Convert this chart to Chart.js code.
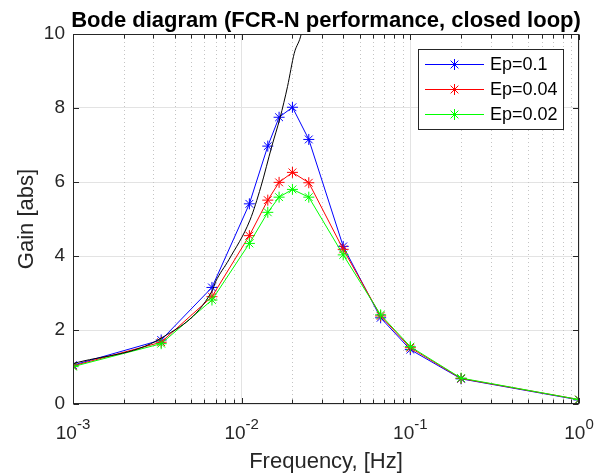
<!DOCTYPE html>
<html>
<head>
<meta charset="utf-8">
<script src="https://cdn.jsdelivr.net/npm/chart.js@4.4.1/dist/chart.umd.min.js"></script>
<style>
  html, body { margin: 0; padding: 0; background: #fff; }
  #wrap { width: 600px; height: 476px; }
</style>
</head>
<body>
<div id="wrap"><canvas id="bode"></canvas></div>
<script>
// frequencies [Hz] of the simulated points
let freq = [0.001, 1/300, 1/150, 1/90, 1/70, 1/60, 1/50, 1/40, 1/25, 1/15, 0.1, 0.2, 1];
let gainEp01  = [1.05, 1.73, 3.15, 5.41, 6.97, 7.75, 8.02, 7.15, 4.26, 2.33, 1.47, 0.68, 0.11];
let gainEp004 = [1.03, 1.67, 2.90, 4.55, 5.51, 5.99, 6.26, 5.98, 4.18, 2.38, 1.52, 0.69, 0.12];
let gainEp002 = [1.01, 1.63, 2.81, 4.34, 5.18, 5.59, 5.80, 5.59, 4.03, 2.41, 1.55, 0.70, 0.12];

// black reference curve (no markers, leaves the plot at the top)
let refFreq = [0.001, 1/300, 1/150, 0.0070, 0.0084, 0.0112, 0.0130, 0.0151, 0.0169, 0.0187, 0.0205, 0.0226, 0.025];
let refGain = [1.09, 1.78, 3.05, 3.30, 3.90, 4.97, 5.87, 6.97, 7.74, 8.58, 9.48, 10.02, 11.3];

let labels = ['Ep=0.1', 'Ep=0.04', 'Ep=0.02'];
let colors = ['#0000ff', '#ff0000', '#00ff00'];

// axis ticks
let decades = [0.001, 0.01, 0.1, 1];
let decadeExp = ['-3', '-2', '-1', '0'];

const FONT = '"Liberation Sans", Arial, sans-serif';
const AXIS = '#262626';

function pts(xs, ys) {
  return xs.map((x, i) => ({ x: x, y: ys[i] }));
}

function isDecade(v) {
  return decades.some(d => Math.abs(v - d) / d < 1e-6);
}

let xTickValues = [];
for (let i = 0; i < decades.length - 1; i++) {
  for (let k = 1; k < 10; k++) xTickValues.push(k * decades[i]);
}
xTickValues.push(decades[decades.length - 1]);

function star(ctx, x, y, r) {
  let d = r * Math.SQRT1_2;
  ctx.beginPath();
  ctx.moveTo(x - r, y); ctx.lineTo(x + r, y);
  ctx.moveTo(x, y - r); ctx.lineTo(x, y + r);
  ctx.moveTo(x - d, y - d); ctx.lineTo(x + d, y + d);
  ctx.moveTo(x - d, y + d); ctx.lineTo(x + d, y - d);
  ctx.stroke();
}

const matlabAxes = {
  id: 'matlabAxes',
  beforeDatasetsDraw(chart) {
    // dotted minor grid
    const ctx = chart.ctx;
    const a = chart.chartArea;
    const xs = chart.scales.x;
    ctx.save();
    ctx.strokeStyle = '#c4c4c4';
    ctx.lineWidth = 1;
    ctx.setLineDash([1, 3]);
    ctx.beginPath();
    xs.ticks.forEach(t => {
      if (isDecade(t.value)) return;
      let px = Math.round(xs.getPixelForValue(t.value)) + 0.5;
      ctx.moveTo(px, a.top);
      ctx.lineTo(px, a.bottom);
    });
    ctx.stroke();
    ctx.restore();
  },
  afterDraw(chart) {
    const ctx = chart.ctx;
    const a = chart.chartArea;
    const xs = chart.scales.x, ys = chart.scales.y;
    const L = Math.round(a.left) + 0.5, R = Math.round(a.right) - 0.5;
    const T = Math.round(a.top) + 0.5, B = Math.round(a.bottom) - 0.5;
    ctx.save();
    ctx.strokeStyle = AXIS;
    ctx.lineWidth = 1;

    // box
    ctx.strokeRect(L, T, R - L, B - T);

    // inward ticks
    ctx.beginPath();
    xs.ticks.forEach(t => {
      let px = Math.round(xs.getPixelForValue(t.value)) + 0.5;
      let len = isDecade(t.value) ? 5.5 : 4;
      ctx.moveTo(px, B); ctx.lineTo(px, B - len);
      ctx.moveTo(px, T); ctx.lineTo(px, T + len);
    });
    ys.ticks.forEach(t => {
      let py = Math.round(ys.getPixelForValue(t.value)) + 0.5;
      ctx.moveTo(L, py); ctx.lineTo(L + 5.5, py);
      ctx.moveTo(R, py); ctx.lineTo(R - 5.5, py);
    });
    ctx.stroke();

    // x tick labels 10^n
    ctx.fillStyle = AXIS;
    ctx.textBaseline = 'alphabetic';
    decades.forEach((d, i) => {
      let px = xs.getPixelForValue(d);
      ctx.font = '19px ' + FONT;
      let wBase = ctx.measureText('10').width;
      ctx.font = '15px ' + FONT;
      let wExp = ctx.measureText(decadeExp[i]).width;
      let x0 = px - (wBase + wExp) / 2;
      ctx.textAlign = 'left';
      ctx.font = '19px ' + FONT;
      ctx.fillText('10', x0, 438.5);
      ctx.font = '15px ' + FONT;
      ctx.fillText(decadeExp[i], x0 + wBase, 429);
    });

    // axis titles
    ctx.font = '22px ' + FONT;
    ctx.textAlign = 'center';
    ctx.fillText('Frequency, [Hz]', (a.left + a.right) / 2, 468);
    ctx.save();
    ctx.translate(33, (a.top + a.bottom) / 2);
    ctx.rotate(-Math.PI / 2);
    ctx.fillText('Gain [abs]', 0, 0);
    ctx.restore();

    // title
    ctx.fillStyle = '#000';
    ctx.font = 'bold 22px ' + FONT;
    ctx.fillText('Bode diagram (FCR-N performance, closed loop)', (a.left + a.right) / 2, 27);

    // legend
    const lx = 418.5, ly = 49.5, lw = 145, lh = 80;
    ctx.fillStyle = '#fff';
    ctx.fillRect(lx, ly, lw, lh);
    ctx.strokeStyle = AXIS;
    ctx.strokeRect(lx, ly, lw, lh);
    ctx.font = '18px ' + FONT;
    ctx.textAlign = 'left';
    ctx.textBaseline = 'middle';
    labels.forEach((lab, i) => {
      let y = 64.5 + i * 25;
      ctx.strokeStyle = colors[i];
      ctx.beginPath();
      ctx.moveTo(425, y);
      ctx.lineTo(484, y);
      ctx.stroke();
      star(ctx, 454.5, y, 5.5);
      ctx.fillStyle = '#000';
      ctx.fillText(lab, 490, y + 1);
    });
    ctx.restore();
  }
};

function series(i, data) {
  return {
    label: labels[i],
    data: pts(freq, data),
    borderColor: colors[i],
    backgroundColor: colors[i],
    borderWidth: 1,
    pointStyle: 'star',
    pointRadius: 5.5,
    pointBorderWidth: 1,
    pointHoverRadius: 5.5,
    order: 3 - i
  };
}

new Chart(document.getElementById('bode'), {
  type: 'line',
  data: {
    datasets: [
      series(0, gainEp01),
      series(1, gainEp004),
      series(2, gainEp002),
      {
        label: '',
        data: pts(refFreq, refGain),
        borderColor: '#000000',
        borderWidth: 1,
        pointRadius: 0,
        cubicInterpolationMode: 'monotone',
        order: 0
      }
    ]
  },
  options: {
    responsive: true,
    maintainAspectRatio: false,
    animation: false,
    events: [],
    layout: { padding: { top: 34, right: 21, left: 0, bottom: 0 } },
    plugins: {
      legend: { display: false },
      title: { display: false },
      tooltip: { enabled: false }
    },
    scales: {
      x: {
        type: 'logarithmic',
        min: 0.001,
        max: 1,
        afterBuildTicks(scale) {
          scale.ticks = xTickValues.map(v => ({ value: v, major: isDecade(v) }));
        },
        afterFit(scale) { scale.height = 72; },
        ticks: { display: false },
        grid: {
          drawTicks: false,
          color: c => (c.tick && isDecade(c.tick.value)) ? '#e3e3e3' : 'rgba(0,0,0,0)'
        },
        border: { display: false }
      },
      y: {
        min: 0,
        max: 10,
        afterFit(scale) { scale.width = 73; },
        ticks: {
          stepSize: 2,
          padding: 8,
          color: AXIS,
          font: { family: FONT, size: 19 }
        },
        grid: { drawTicks: false, color: '#e3e3e3' },
        border: { display: false }
      }
    }
  },
  plugins: [matlabAxes]
});
</script>
</body>
</html>
